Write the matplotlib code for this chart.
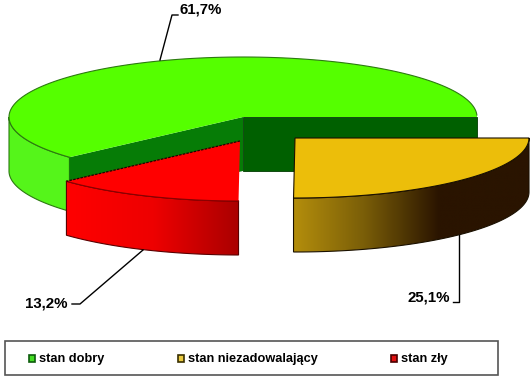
import numpy as np
from matplotlib import pyplot as plt
from matplotlib.patches import Polygon, Rectangle
from matplotlib.colors import LinearSegmentedColormap

plt.rcParams['font.family'] = ['Liberation Sans', 'DejaVu Sans']

# dane
categories = ['stan dobry', 'stan niezadowalający', 'stan zły']
values = [61.7, 25.1, 13.2]
value_labels = ['61,7%', '25,1%', '13,2%']

# kolory
top_colors = ['#55ff00', '#ecbe0a', '#ff0000']
edge_colors = ['#2c7a10', '#1a1000', '#7a0000']
legend_edges = ['#0c5c0c', '#3a3000', '#4a0000']

RX = 234
RY = 60
DEPTH = 54

fig = plt.figure(figsize=(5.32, 3.8), dpi=100, facecolor='white')
ax = fig.add_axes([0, 0, 1, 1])


def arc(cx, cy, a0, a1, n=120):
    t = np.radians(np.linspace(a0, a1, n))
    return np.column_stack([cx + RX * np.cos(t), cy + RY * np.sin(t)])


def poly(pts, color, edge='none', lw=0.8, z=1):
    p = Polygon(pts, closed=True, facecolor=color, edgecolor=edge, linewidth=lw, zorder=z)
    ax.add_patch(p)
    return p


def gradient_side(pts, colors, x0, x1, y0, y1, stops, z):
    # boczna sciana wycinka z gradientem w poziomie
    cmap = LinearSegmentedColormap.from_list('side', list(zip(stops, colors)))
    im = ax.imshow(np.linspace(0, 1, 256).reshape(1, -1), cmap=cmap, extent=[x0, x1, y1, y0],
                   aspect='auto', zorder=z, interpolation='bilinear')
    clip = Polygon(pts, closed=True, transform=ax.transData, facecolor='none', edgecolor='none')
    ax.add_patch(clip)
    im.set_clip_path(clip)


# katy wycinkow liczone od wschodu, zgodnie z ruchem zegara
yellow_end = values[1] / 100 * 360
red_end = yellow_end + values[2] / 100 * 360

# zielony
gx, gy = 243, 117
g_arc = arc(gx, gy, red_end, 360)
side = arc(gx, gy, red_end, 180)
poly(np.vstack([side, side[::-1] + [0, DEPTH]]), '#55f51a', edge_colors[0], 0.8, 1)
corner = g_arc[0]
poly([[gx, gy], corner, corner + [0, DEPTH], [gx, gy + DEPTH]], '#067c06', 'none', 0.8, 2)
poly([[gx, gy], [gx + RX, gy], [gx + RX, gy + DEPTH], [gx, gy + DEPTH]], '#006000', '#003a00', 0.6, 3)
poly(np.vstack([[[gx, gy]], g_arc]), top_colors[0], 'none', 0.8, 4)
ax.plot(g_arc[:-1, 0], g_arc[:-1, 1], color=edge_colors[0], lw=0.8, zorder=5)

# czerwony
rx, ry = 240, 141
r_arc = arc(rx, ry, yellow_end, red_end)
r_side = np.vstack([r_arc, r_arc[::-1] + [0, DEPTH]])
gradient_side(r_side, ['#ff0000', '#ee0000', '#a80000'], rx - RX * 0.75, rx, ry, ry + RY + DEPTH,
              [0, 0.5, 1], 6)
poly(r_side, 'none', '#5a0000', 0.8, 7)
poly(np.vstack([[[rx, ry]], r_arc]), top_colors[2], 'none', 0.8, 8)
ax.plot(r_arc[:, 0], r_arc[:, 1], color='#8a0000', lw=0.8, zorder=9)
ax.plot([rx, r_arc[-1, 0]], [ry, r_arc[-1, 1]], color='#200000', lw=0.9, ls=(0, (2, 1)), zorder=9)

# zolty
yx, yy = 295, 138
y_arc = arc(yx, yy, 0, yellow_end)
y_side = np.vstack([y_arc, y_arc[::-1] + [0, DEPTH]])
gradient_side(y_side, ['#b48e0c', '#7a5e08', '#2a1400', '#2a1400'], yx - 2, yx + RX, yy, yy + RY + DEPTH,
              [0, 0.3, 0.62, 1], 6)
poly(y_side, 'none', edge_colors[1], 0.8, 7)
poly(np.vstack([[[yx, yy]], y_arc]), top_colors[1], edge_colors[1], 0.8, 8)

# etykiety z liniami odniesienia
ax.plot([160, 172, 178], [60, 15, 15], color='black', lw=1, zorder=10)
ax.plot([143, 80, 72], [250, 304, 304], color='black', lw=1, zorder=10)
ax.plot([459, 459, 453], [235, 302, 302], color='black', lw=1, zorder=10)
ax.text(180, 10, value_labels[0], fontsize=10.8, fontweight='bold', ha='left', va='center')
ax.text(68, 303, value_labels[2], fontsize=10.8, fontweight='bold', ha='right', va='center')
ax.text(450, 298, value_labels[1], fontsize=10.8, fontweight='bold', ha='right', va='center')

# legenda
ax.add_patch(Rectangle((5, 341), 493, 34, facecolor='white', edgecolor='#555555', linewidth=1.2, zorder=1))
for name, col, edge, mx in zip(categories, ['#44dd22', '#eacb40', '#e01010'], legend_edges, [29, 178, 391]):
    ax.add_patch(Rectangle((mx, 355), 6, 7, facecolor=col, edgecolor=edge, linewidth=1.2, zorder=2))
    ax.text(mx + 10, 359, name, fontsize=9.2, fontweight='bold', ha='left', va='center', zorder=2)

ax.set_xlim(0, 532)
ax.set_ylim(380, 0)
ax.axis('off')

plt.savefig('out.png', dpi=100)
